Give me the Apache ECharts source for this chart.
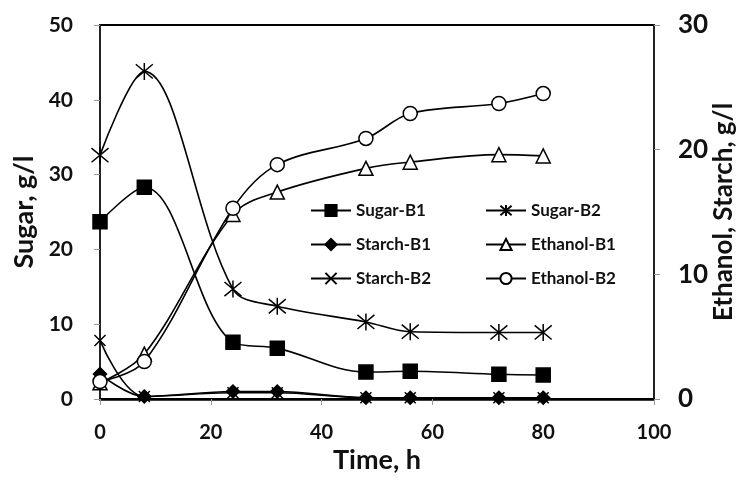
<!DOCTYPE html>
<html>
<head>
<meta charset="utf-8">
<script src="https://cdn.jsdelivr.net/npm/echarts@6/dist/echarts.min.js"></script>
<style>html,body{margin:0;padding:0;background:#fff;}#c{width:740px;height:482px;}</style>
</head>
<body>
<div id="c"></div>
<script>
// Data
const timeH = [0, 8, 24, 32, 48, 56, 72, 80];
const sugarB1 = [23.7, 28.3, 7.6, 6.8, 3.6, 3.7, 3.3, 3.2];
const sugarB2 = [32.6, 43.8, 14.7, 12.4, 10.3, 9.0, 8.9, 8.9];
const starchB1 = [2.0, 0.2, 0.6, 0.6, 0.1, 0.1, 0.1, 0.1];
const starchB2 = [4.7, 0.2, 0.5, 0.5, 0.1, 0.1, 0.1, 0.1];
const ethanolB1 = [1.3, 3.6, 14.8, 16.6, 18.5, 19.0, 19.6, 19.5];
const ethanolB2 = [1.4, 3.0, 15.3, 18.8, 20.9, 22.9, 23.7, 24.5];
const xTicks = [0, 20, 40, 60, 80, 100];
const leftTicks = [0, 10, 20, 30, 40, 50];
const rightTicks = [0, 10, 20, 30];

const FONT = 'Lato';
const pairs = arr => timeH.map((t, i) => [t, arr[i]]);
const ASTERISK = 'path://M0,0L10,10M10,0L0,10M5,-1L5,11';
const XMARK = 'path://M0,0L10,10M10,0L0,10';

function mk(name, arr, yIdx, symbol, size, fill) {
  return {
    name: name, type: 'line', yAxisIndex: yIdx, data: pairs(arr),
    smooth: 0.35, symbol: symbol, symbolSize: size, showSymbol: true,
    lineStyle: { color: '#000', width: 1.6 },
    itemStyle: { color: fill, borderColor: '#000', borderWidth: 1.5 },
    emphasis: { disabled: true }, animation: false, z: 3
  };
}

const chart = echarts.init(document.getElementById('c'), null, { renderer: 'canvas' });
const lab = (size, margin) => ({ color: '#111', fontFamily: FONT, fontWeight: 'bold', fontSize: size, margin: margin });
const nameStyle = { color: '#111', fontFamily: FONT, fontWeight: 'bold', fontSize: 27 };
const legendText = { color: '#111', fontFamily: FONT, fontWeight: 'bold', fontSize: 17 };
chart.setOption({
  animation: false,
  backgroundColor: '#fff',
  grid: { left: 100, right: 86, top: 25, bottom: 83, outerBoundsMode: 'none', containLabel: false, show: true, borderColor: '#000', borderWidth: 2, backgroundColor: 'transparent' },
  legend: [
    { data: ['Sugar-B1', 'Starch-B1', 'Starch-B2'], orient: 'vertical', left: 305, top: 197, itemWidth: 40, itemHeight: 14, itemGap: 17, textStyle: legendText, selectedMode: false },
    { data: ['Sugar-B2', 'Ethanol-B1', 'Ethanol-B2'], orient: 'vertical', left: 480, top: 197, itemWidth: 40, itemHeight: 14, itemGap: 17, textStyle: legendText, selectedMode: false }
  ],
  xAxis: {
    type: 'value', min: xTicks[0], max: xTicks[xTicks.length - 1], interval: 20,
    name: 'Time, h', nameLocation: 'middle', nameGap: 48, nameMoveOverlap: false, nameTextStyle: nameStyle,
    axisLine: { show: true, lineStyle: { color: '#000', width: 2.5 } },
    axisTick: { show: true, length: 6, lineStyle: { color: '#999' } },
    axisLabel: lab(20, 24),
    splitLine: { show: false }
  },
  yAxis: [
    {
      type: 'value', min: leftTicks[0], max: leftTicks[leftTicks.length - 1], interval: 10,
      name: 'Sugar, g/l', nameLocation: 'middle', nameGap: 62, nameMoveOverlap: false, nameTextStyle: nameStyle,
      axisLine: { show: true, lineStyle: { color: '#222', width: 2 } },
      axisTick: { show: true, length: 6, lineStyle: { color: '#999' } },
      axisLabel: lab(21, 27),
      splitLine: { show: false }
    },
    {
      type: 'value', position: 'right', min: rightTicks[0], max: rightTicks[rightTicks.length - 1], interval: 10,
      name: 'Ethanol, Starch, g/l', nameLocation: 'middle', nameGap: 57, nameRotate: 90, nameMoveOverlap: false,
      nameTextStyle: Object.assign({}, nameStyle, { fontSize: 26 }),
      axisLine: { show: true, lineStyle: { color: '#222', width: 2 } },
      axisTick: { show: true, length: 6, lineStyle: { color: '#999' } },
      axisLabel: lab(26, 24),
      splitLine: { show: false }
    }
  ],
  series: [
    mk('Sugar-B1', sugarB1, 0, 'rect', 14, '#000'),
    mk('Sugar-B2', sugarB2, 0, ASTERISK, 17, '#000'),
    mk('Starch-B1', starchB1, 1, 'diamond', 13, '#000'),
    mk('Ethanol-B1', ethanolB1, 1, 'triangle', 14, '#fff'),
    mk('Starch-B2', starchB2, 1, XMARK, 11, '#000'),
    mk('Ethanol-B2', ethanolB2, 1, 'circle', 14, '#fff')
  ]
});
</script>
</body>
</html>
